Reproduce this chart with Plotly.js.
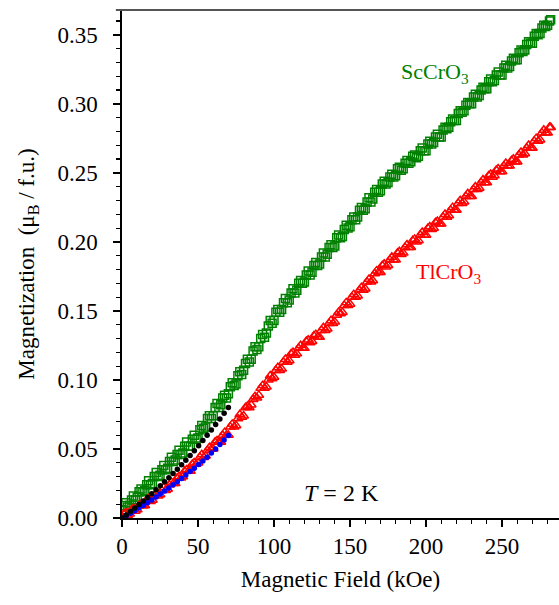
<!DOCTYPE html>
<html>
<head>
<meta charset="utf-8">
<script src="https://cdn.plot.ly/plotly-3.0.1.min.js"></script>
<style>html,body{margin:0;padding:0;background:#fff;}#chart{width:559px;height:605px;}</style>
</head>
<body>
<div id="chart"></div>
<script>
// Magnetic field (kOe), sweep A and sweep B (interleaved readings)
const fieldA = [0,2.5,5,7.5,10,12.5,15,17.5,20,22.5,25,27.5,30,32.5,35,37.5,40,42.5,45,47.5,50,52.5,55,57.5,60,62.5,65,67.5,70,72.5,75,77.5,80,82.5,85,87.5,90,92.5,95,97.5,100,102.5,105,107.5,110,112.5,115,117.5,120,122.5,125,127.5,130,132.5,135,137.5,140,142.5,145,147.5,150,152.5,155,157.5,160,162.5,165,167.5,170,172.5,175,177.5,180,182.5,185,187.5,190,192.5,195,197.5,200,202.5,205,207.5,210,212.5,215,217.5,220,222.5,225,227.5,230,232.5,235,237.5,240,242.5,245,247.5,250,252.5,255,257.5,260,262.5,265,267.5,270,272.5,275,277.5,280,282];
const fieldB = [1.25,3.75,6.25,8.75,11.25,13.75,16.25,18.75,21.25,23.75,26.25,28.75,31.25,33.75,36.25,38.75,41.25,43.75,46.25,48.75,51.25,53.75,56.25,58.75,61.25,63.75,66.25,68.75,71.25,73.75,76.25,78.75,81.25,83.75,86.25,88.75,91.25,93.75,96.25,98.75,101.25,103.75,106.25,108.75,111.25,113.75,116.25,118.75,121.25,123.75,126.25,128.75,131.25,133.75,136.25,138.75,141.25,143.75,146.25,148.75,151.25,153.75,156.25,158.75,161.25,163.75,166.25,168.75,171.25,173.75,176.25,178.75,181.25,183.75,186.25,188.75,191.25,193.75,196.25,198.75,201.25,203.75,206.25,208.75,211.25,213.75,216.25,218.75,221.25,223.75,226.25,228.75,231.25,233.75,236.25,238.75,241.25,243.75,246.25,248.75,251.25,253.75,256.25,258.75,261.25,263.75,266.25,268.75,271.25,273.75,276.25,278.75,281.25];

// ScCrO3 magnetization (muB / f.u.)
const scA = [0.006,0.011,0.009,0.016,0.015,0.021,0.020,0.027,0.025,0.033,0.031,0.038,0.036,0.044,0.042,0.049,0.047,0.055,0.052,0.060,0.058,0.067,0.066,0.074,0.074,0.083,0.082,0.089,0.090,0.098,0.097,0.106,0.107,0.115,0.115,0.124,0.124,0.133,0.134,0.143,0.143,0.151,0.151,0.159,0.158,0.166,0.165,0.172,0.171,0.179,0.178,0.185,0.184,0.192,0.191,0.198,0.197,0.205,0.204,0.212,0.211,0.218,0.218,0.225,0.224,0.232,0.231,0.238,0.237,0.244,0.243,0.249,0.248,0.254,0.253,0.259,0.258,0.263,0.262,0.268,0.266,0.273,0.272,0.278,0.276,0.283,0.283,0.289,0.288,0.295,0.295,0.301,0.300,0.307,0.306,0.312,0.311,0.318,0.317,0.323,0.321,0.328,0.327,0.333,0.332,0.339,0.339,0.345,0.344,0.351,0.351,0.357,0.357,0.361];
const scB = [0.009,0.008,0.013,0.013,0.019,0.019,0.024,0.024,0.030,0.030,0.035,0.035,0.041,0.041,0.046,0.046,0.052,0.052,0.057,0.057,0.064,0.065,0.072,0.072,0.080,0.080,0.087,0.087,0.095,0.096,0.103,0.104,0.112,0.113,0.121,0.122,0.130,0.131,0.139,0.141,0.149,0.149,0.156,0.156,0.163,0.163,0.170,0.170,0.176,0.176,0.183,0.183,0.189,0.189,0.196,0.196,0.203,0.203,0.209,0.210,0.216,0.216,0.223,0.223,0.229,0.229,0.236,0.236,0.242,0.242,0.247,0.247,0.253,0.252,0.257,0.257,0.262,0.261,0.266,0.266,0.271,0.271,0.276,0.276,0.281,0.282,0.287,0.288,0.293,0.294,0.299,0.300,0.305,0.305,0.310,0.311,0.316,0.316,0.321,0.321,0.326,0.326,0.331,0.332,0.337,0.338,0.343,0.344,0.349,0.350,0.355,0.356,0.360];

// TlCrO3 magnetization (muB / f.u.)
const tlA = [0.000,0.004,0.003,0.007,0.006,0.010,0.009,0.014,0.013,0.018,0.017,0.022,0.021,0.026,0.025,0.030,0.030,0.035,0.034,0.040,0.040,0.046,0.045,0.051,0.050,0.056,0.055,0.062,0.060,0.068,0.067,0.075,0.074,0.081,0.082,0.088,0.089,0.096,0.095,0.103,0.102,0.109,0.108,0.115,0.114,0.120,0.119,0.125,0.123,0.129,0.128,0.133,0.131,0.138,0.137,0.143,0.142,0.149,0.149,0.156,0.155,0.162,0.161,0.167,0.166,0.173,0.172,0.179,0.178,0.184,0.183,0.189,0.187,0.193,0.192,0.198,0.196,0.202,0.201,0.207,0.205,0.211,0.210,0.215,0.213,0.220,0.219,0.225,0.223,0.230,0.229,0.235,0.233,0.240,0.239,0.245,0.243,0.249,0.248,0.253,0.251,0.257,0.255,0.260,0.258,0.265,0.264,0.270,0.268,0.275,0.274,0.281,0.279,0.283];
const tlB = [0.003,0.002,0.006,0.005,0.009,0.009,0.013,0.012,0.016,0.016,0.020,0.020,0.024,0.025,0.029,0.029,0.034,0.034,0.039,0.039,0.044,0.044,0.049,0.050,0.055,0.055,0.060,0.060,0.066,0.066,0.072,0.073,0.080,0.080,0.086,0.087,0.094,0.094,0.100,0.101,0.107,0.107,0.113,0.113,0.119,0.118,0.123,0.123,0.128,0.127,0.132,0.131,0.136,0.136,0.141,0.141,0.147,0.148,0.154,0.154,0.160,0.160,0.165,0.165,0.171,0.171,0.177,0.178,0.183,0.182,0.187,0.187,0.192,0.191,0.196,0.196,0.201,0.200,0.205,0.205,0.210,0.209,0.214,0.213,0.218,0.218,0.223,0.223,0.228,0.228,0.233,0.233,0.238,0.238,0.243,0.243,0.248,0.247,0.252,0.251,0.255,0.255,0.259,0.258,0.263,0.263,0.268,0.268,0.273,0.273,0.279,0.279,0.283];

// Low-field fits (dots)
const fieldFit = [0,2.8,5.6,8.4,11.2,14,16.8,19.6,22.4,25.2,28,30.8,33.6,36.4,39.2,42,44.8,47.6,50.4,53.2,56,58.8,61.6,64.4,67.2,70];
const fitScCrO3 = [0.000,0.0022,0.0047,0.0072,0.0097,0.0123,0.0149,0.0176,0.0204,0.0233,0.0262,0.0292,0.0323,0.0354,0.0386,0.0419,0.0453,0.0488,0.0524,0.0561,0.0599,0.0638,0.0677,0.0718,0.0759,0.0800];
const fitTlCrO3 = [0.000,0.0017,0.0035,0.0053,0.0072,0.0091,0.0111,0.0131,0.0152,0.0173,0.0195,0.0217,0.0240,0.0263,0.0287,0.0311,0.0336,0.0361,0.0387,0.0413,0.0440,0.0470,0.0500,0.0532,0.0565,0.0598];

const xTicks = [0,50,100,150,200,250];
const yTicks = [0,0.05,0.10,0.15,0.20,0.25,0.30,0.35];

const FONT = '"Liberation Serif", "Times New Roman", serif';
const Y_RANGE = [0, 0.368];

const traces = [
  {x: fieldA.concat(fieldB), y: scA.concat(scB), mode: 'markers', type: 'scatter', name: 'ScCrO3',
   marker: {symbol: 'square-open', size: 8, color: '#008000', line: {width: 1.5, color: '#008000'}}},
  {x: fieldA.concat(fieldB), y: tlA.concat(tlB), mode: 'markers', type: 'scatter', name: 'TlCrO3',
   marker: {symbol: 'triangle-up-open', size: 8.5, color: '#ff0000', line: {width: 1.5, color: '#ff0000'}}},
  {x: fieldFit, y: fitTlCrO3, mode: 'markers', type: 'scatter', name: 'fit TlCrO3',
   marker: {symbol: 'circle', size: 5.5, color: '#0000ff'}},
  {x: fieldFit, y: fitScCrO3, mode: 'markers', type: 'scatter', name: 'fit ScCrO3',
   marker: {symbol: 'circle', size: 5.5, color: '#000000'}},
  {x: [], y: [], yaxis: 'y2', type: 'scatter', mode: 'markers', showlegend: false, hoverinfo: 'skip'}
];

const layout = {
  width: 559, height: 605,
  margin: {l: 122, r: 0, t: 10, b: 87},
  paper_bgcolor: '#fff', plot_bgcolor: '#fff',
  showlegend: false,
  font: {family: FONT, size: 23, color: '#000'},
  xaxis: {
    range: [0, 287.5], tickvals: xTicks, ticktext: xTicks.map(String),
    showgrid: false, zeroline: false, showline: true, linecolor: '#000', linewidth: 1.6,
    ticks: 'outside', ticklen: 7, tickwidth: 1.6, tickcolor: '#000',
    minor: {dtick: 10, tick0: 0, ticks: 'outside', ticklen: 4, tickwidth: 1.2, tickcolor: '#000', showgrid: false},
    tickfont: {family: FONT, size: 23, color: '#000'},
    title: {text: 'Magnetic Field (kOe)', font: {family: FONT, size: 23, color: '#000'}, standoff: 12}
  },
  // labels axis: invisible long ticks push the labels away from the axis line
  yaxis: {
    range: Y_RANGE, tickvals: yTicks, ticktext: yTicks.map(v => v.toFixed(2)),
    showgrid: false, zeroline: false, showline: true, linecolor: '#000', linewidth: 1.6,
    ticks: 'outside', ticklen: 18, tickwidth: 1, tickcolor: 'rgba(0,0,0,0)',
    tickfont: {family: FONT, size: 23, color: '#000'},
    title: {text: 'Magnetization  (μ<sub>B</sub> / f.u.)', font: {family: FONT, size: 23, color: '#000'}, standoff: 16}
  },
  // tick-marks axis overlaid on the same scale
  yaxis2: {
    overlaying: 'y', side: 'left', anchor: 'x', range: Y_RANGE, tickvals: yTicks,
    showticklabels: false, showgrid: false, zeroline: false, showline: true, linecolor: '#000', linewidth: 1.6,
    ticks: 'outside', ticklen: 7, tickwidth: 1.6, tickcolor: '#000',
    minor: {dtick: 0.01, tick0: 0, ticks: 'outside', ticklen: 4, tickwidth: 1.2, tickcolor: '#000', showgrid: false}
  },
  shapes: [
    {type: 'line', xref: 'paper', yref: 'paper', x0: -0.014, x1: 1, y0: 1, y1: 1,
     line: {color: '#555', width: 2}}
  ],
  annotations: [
    {x: 206, y: 0.3225, xref: 'x', yref: 'y', text: 'ScCrO<sub>3</sub>', showarrow: false,
     font: {family: FONT, size: 22, color: '#008000'}},
    {x: 214.5, y: 0.1775, xref: 'x', yref: 'y', text: 'TlCrO<sub>3</sub>', showarrow: false,
     font: {family: FONT, size: 22, color: '#ff0000'}},
    {x: 144.7, y: 0.018, xref: 'x', yref: 'y', text: '<i>T</i> = 2 K', showarrow: false,
     font: {family: FONT, size: 24, color: '#000'}}
  ]
};

Plotly.newPlot('chart', traces, layout, {displayModeBar: false, staticPlot: true});
</script>
</body>
</html>
